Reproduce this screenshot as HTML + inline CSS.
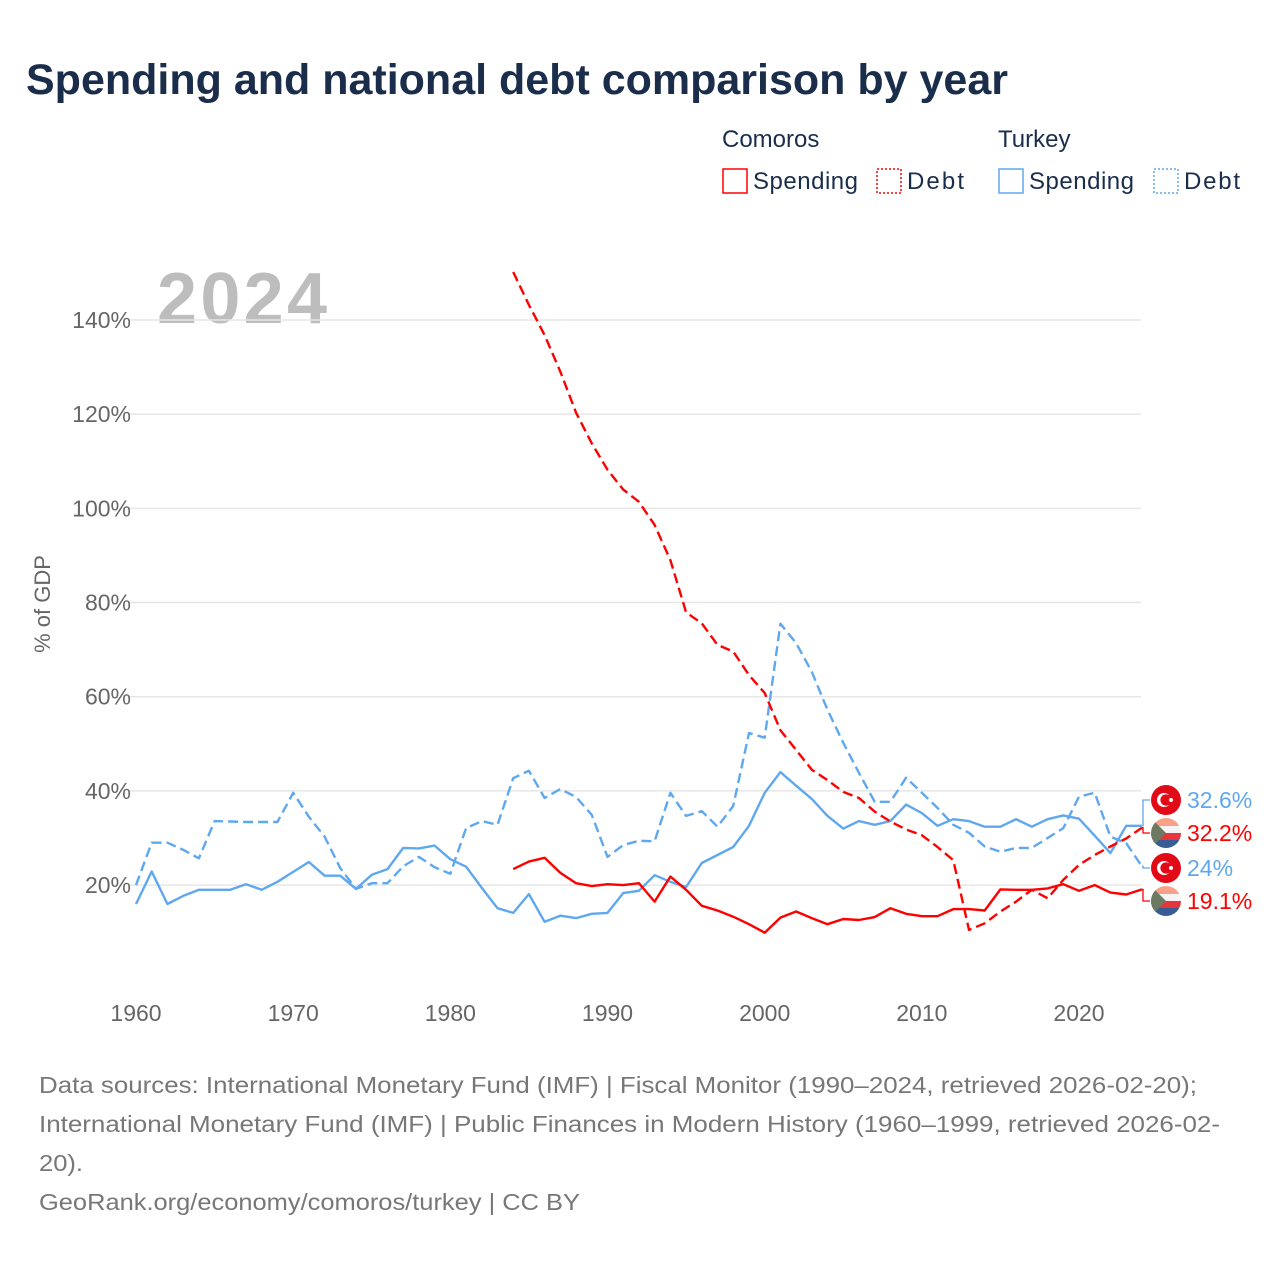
<!DOCTYPE html>
<html><head><meta charset="utf-8">
<style>
body{margin:0;background:#fff;font-family:"Liberation Sans",sans-serif;}
#wrap{position:relative;width:1280px;height:1280px;overflow:hidden;}
</style></head>
<body>
<div id="wrap">
<svg id="chart" width="1280" height="1280" xmlns="http://www.w3.org/2000/svg">
<text x="26" y="94" font-size="43" font-weight="bold" fill="#1a2e4c">Spending and national debt comparison by year</text>
<g font-size="24" fill="#1a2e4c">
<text x="722" y="147">Comoros</text>
<text x="998" y="147">Turkey</text>
<g><rect x="723" y="169" width="24" height="24" fill="none" stroke="#ff0000" stroke-width="1.5"/><text x="753" y="189" textLength="105">Spending</text></g>
<g><rect x="877" y="169" width="24" height="24" fill="none" stroke="#ff0000" stroke-width="1.5" stroke-dasharray="2,2"/><text x="907" y="189" textLength="57">Debt</text></g>
<g><rect x="999" y="169" width="24" height="24" fill="none" stroke="#5fa8ef" stroke-width="1.5"/><text x="1029" y="189" textLength="105">Spending</text></g>
<g><rect x="1154" y="169" width="24" height="24" fill="none" stroke="#5fa8ef" stroke-width="1.5" stroke-dasharray="2,2"/><text x="1184" y="189" textLength="56">Debt</text></g>
</g>
<text x="157" y="323" font-size="72" font-weight="bold" fill="#bdbdbd" textLength="170">2024</text>
<text transform="translate(50,604) rotate(-90)" text-anchor="middle" font-size="22" fill="#666">% of GDP</text>
<g id="grid"></g><g id="yticks"></g><g id="xticks"></g><g id="series"></g><g id="labels"></g>
<g font-size="23" fill="#777">
<text x="39" y="1093" textLength="1158" lengthAdjust="spacingAndGlyphs">Data sources: International Monetary Fund (IMF) | Fiscal Monitor (1990–2024, retrieved 2026-02-20);</text>
<text x="39" y="1132" textLength="1181" lengthAdjust="spacingAndGlyphs">International Monetary Fund (IMF) | Public Finances in Modern History (1960–1999, retrieved 2026-02-</text>
<text x="39" y="1171" textLength="44" lengthAdjust="spacingAndGlyphs">20).</text>
<text x="39" y="1210" textLength="541" lengthAdjust="spacingAndGlyphs">GeoRank.org/economy/comoros/turkey | CC BY</text>
</g>
</svg>
</div>
<script>
const yTicks=[20,40,60,80,100,120,140];
const xTicks=[1960,1970,1980,1990,2000,2010,2020];
const turkeySpendingStart=1960;
const turkeySpending=[16,22.9,16,17.7,19,19,19,20.2,19,20.7,22.8,24.9,22,22,19.2,22.2,23.4,27.9,27.8,28.4,25.5,23.9,19.4,15.1,14.1,18.1,12.2,13.5,13,13.9,14.1,18.3,18.8,22.1,20.7,19.6,24.7,26.4,28.1,32.6,39.6,44,41.1,38.3,34.7,32,33.6,32.8,33.6,37.1,35.3,32.6,34,33.6,32.4,32.4,34,32.4,34,34.8,34.1,30.5,26.8,32.6,32.6];
const turkeyDebt=[20,29,29,27.5,25.7,33.6,33.5,33.4,33.4,33.4,39.6,34.5,30.3,23.6,19.2,20.4,20.4,24,26,23.8,22.4,32.1,33.6,32.8,42.7,44.3,38.5,40.4,38.7,34.9,26,28.5,29.4,29.3,39.6,34.7,35.7,32.4,36.8,52.3,51.3,75.5,71.4,65.3,57.2,50.2,43.8,37.7,37.7,42.8,39.6,36.4,32.8,31.1,28.2,27.1,27.9,27.9,30,32.1,38.8,39.6,30.3,28.9,24];
const comorosStart=1984;
const comorosSpending=[23.4,25,25.8,22.6,20.4,19.8,20.2,20,20.4,16.5,21.8,19,15.6,14.6,13.3,11.7,9.9,13.1,14.4,13,11.7,12.8,12.6,13.2,15.1,13.9,13.4,13.4,14.9,14.9,14.6,19.1,19,19,19.3,20.2,18.8,20,18.4,18,19.1];
const comorosDebt=[150.2,143.2,136.8,129,120.3,113.8,108.2,104,101.4,96.5,89,77.9,75.6,71,69.6,64.6,60.8,52.9,48.7,44.5,42.3,39.8,38.5,35.6,33.5,31.8,30.6,28.1,25.3,10.5,11.9,14.4,16.5,19,17.2,21.1,24.3,26.4,28.2,29.9,32.2];
const endLabels=["32.6%","32.2%","24%","19.1%"];

const NS="http://www.w3.org/2000/svg";
const X=y=>136+(y-1960)*(1079-136)/60;
const Y=v=>979.3-v*(979.3-320)/140;
function mk(tag,attrs,parent){const e=document.createElementNS(NS,tag);for(const k in attrs)e.setAttribute(k,attrs[k]);parent.appendChild(e);return e;}
const grid=document.getElementById('grid'),yt=document.getElementById('yticks'),xt=document.getElementById('xticks'),ser=document.getElementById('series'),lab=document.getElementById('labels');
yTicks.forEach(v=>{
 const l=mk('line',{x1:128,x2:1141,y1:Y(v),y2:Y(v),stroke:'#e6e6e6','stroke-width':1.5},grid);
 
 
 const t=mk('text',{x:131,y:Y(v)+8,'text-anchor':'end','font-size':23,fill:'#666'},yt);
 t.textContent=v+'%';
 
 
});
xTicks.forEach(y=>{
 const t=mk('text',{x:X(y),y:1021,'text-anchor':'middle','font-size':23,fill:'#666'},xt);
 t.textContent=y;
 
 
});
function line(arr,start,color,dash,name){
 const d=arr.map((v,i)=>(i?'L':'M')+X(start+i).toFixed(1)+','+Y(v).toFixed(1)).join(' ');
 const p=mk('path',{d:d,fill:'none',stroke:color,'stroke-width':2.4,'stroke-linejoin':'round'},ser);
 if(dash)p.setAttribute('stroke-dasharray','10,5');
 
 
 return Y(arr[arr.length-1]);
}
const e1=line(turkeySpending,turkeySpendingStart,'#5fa8ef',false,'turkey-spending-line');
const e2=line(turkeyDebt,turkeySpendingStart,'#5fa8ef',true,'turkey-debt-line');
const e3=line(comorosSpending,comorosStart,'#ff0000',false,'comoros-spending-line');
const e4=line(comorosDebt,comorosStart,'#ff0000',true,'comoros-debt-line');
const items=[{y:e1,ly:800,c:'#5fa8ef',f:'tr'},{y:e4,ly:833,c:'#ff0000',f:'km'},{y:e2,ly:868,c:'#5fa8ef',f:'tr'},{y:e3,ly:901,c:'#ff0000',f:'km'}];
const xe=X(2024);
items.forEach((it,i)=>{
 const c=mk('path',{d:`M${xe},${it.y} L1143,${it.y} L1143,${it.ly} L1150,${it.ly}`,fill:'none',stroke:it.c,'stroke-width':1.3},lab);
 
 
 const g=mk('g',{},lab);
 
 
 const cx=1166,cy=it.ly;
 if(it.f==='tr'){
  mk('circle',{cx:cx,cy:cy,r:15,fill:'#e30a17'},g);
  mk('circle',{cx:cx-2,cy:cy,r:7,fill:'#fff'},g);
  mk('circle',{cx:cx,cy:cy,r:5.6,fill:'#e30a17'},g);
  mk('circle',{cx:cx+5,cy:cy,r:2,fill:'#fff'},g);
 }else{
  const id='clip'+i;
  const cp=mk('clipPath',{id:id},g);mk('circle',{cx:cx,cy:cy,r:15},cp);
  const gg=mk('g',{'clip-path':`url(#${id})`},g);
  mk('rect',{x:cx-15,y:cy-15,width:30,height:8,fill:'#f8a088'},gg);
  mk('rect',{x:cx-15,y:cy-7,width:30,height:7,fill:'#f4f4f4'},gg);
  mk('rect',{x:cx-15,y:cy,width:30,height:7,fill:'#e8343c'},gg);
  mk('rect',{x:cx-15,y:cy+7,width:30,height:8,fill:'#3a5c94'},gg);
  mk('path',{d:`M${cx-15},${cy-15} L${cx},${cy} L${cx-15},${cy+15}Z`,fill:'#6b7a60'},gg);
 }
 const t=mk('text',{x:1187,y:it.ly+8,'font-size':23,fill:it.c},lab);
 t.textContent=endLabels[i];
 
 
});
</script>
</body></html>
